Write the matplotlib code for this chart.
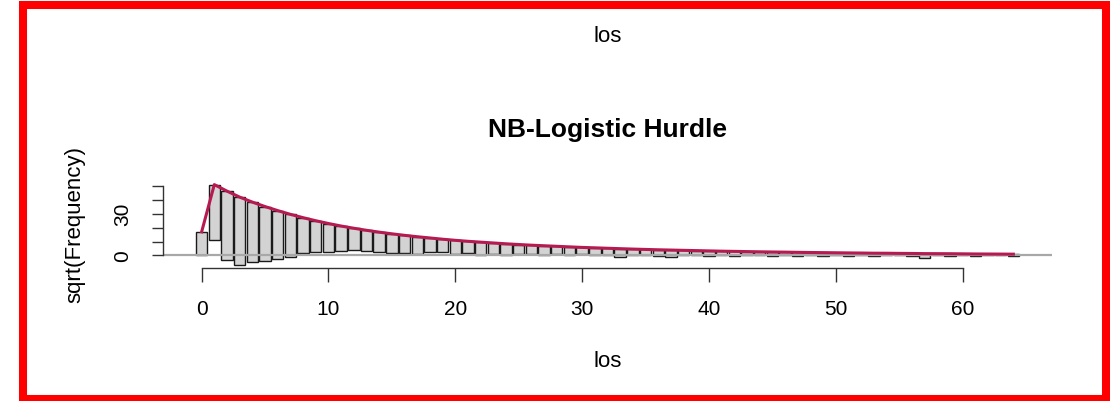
"""Hanging rootogram for the NB-logistic hurdle fit of length of stay."""

import matplotlib
matplotlib.use("Agg")
import matplotlib.pyplot as plt
import numpy as np
from matplotlib.patches import Rectangle

# length of stay (days)
counts = np.arange(0, 65)

# observed frequencies per count
observed = [
    289, 1600, 2490, 2372, 1884, 1552, 1190, 924, 660, 515,
    424, 313, 250, 213, 210, 190, 166, 159, 100, 85,
    94, 71, 81, 58, 66, 45, 42, 46, 31, 34,
    25, 27, 21, 34, 19, 15, 19, 24, 12, 8,
    12, 7, 12, 5, 7, 8, 4, 6, 3, 6,
    3, 6, 2, 3, 1, 2, 3, 11, 1, 3,
    1, 3, 1, 1, 2,
]

# expected frequencies from the hurdle model
expected = [
    289, 2601, 2144, 1764, 1475, 1239, 1043, 876, 740, 625,
    529, 449, 384, 328, 282, 243, 210, 182, 159, 137,
    119, 104, 92, 81, 70.6, 62.4, 54.8, 49.0, 43.6, 38.4,
    33.6, 30.3, 27.0, 24.0, 21.2, 18.9, 16.8, 15.2, 13.7, 12.3,
    10.9, 9.6, 8.7, 7.8, 7.0, 6.3, 5.8, 5.1, 4.6, 4.2,
    3.8, 3.4, 3.1, 2.7, 2.6, 2.3, 2.1, 1.8, 1.7, 1.6,
    1.4, 1.2, 1.1, 1.0, 0.9,
]

sqrt_obs = np.sqrt(observed)
sqrt_exp = np.sqrt(expected)
bar_bottom = sqrt_exp - sqrt_obs

plt.rcParams["font.family"] = ["Liberation Sans", "DejaVu Sans"]

W, H = 1110, 402
fig = plt.figure(figsize=(W / 100, H / 100), dpi=100)

left, right, bottom, top = 163, 1052, 269, 182.4
ax = fig.add_axes([left / W, 1 - bottom / H, (right - left) / W, (bottom - top) / H])

width = 0.9
ax.bar(counts, sqrt_obs, bottom=bar_bottom, width=width,
       color="#d3d3d3", edgecolor="#1a1a1a", linewidth=1.0, zorder=2)
ax.axhline(0, color="#a8a8a8", lw=1.6, zorder=2.5)
ax.plot(counts, sqrt_exp, color="#B61A51", lw=2.2, zorder=3)

# R-style 4% padding around the data range
x_lo, x_hi = counts[0] - width / 2, counts[-1] + width / 2
y_lo, y_hi = bar_bottom.min(), sqrt_exp.max()
ax.set_xlim(x_lo - 0.04 * (x_hi - x_lo), x_hi + 0.04 * (x_hi - x_lo))
ax.set_ylim(y_lo - 0.04 * (y_hi - y_lo), y_hi + 0.04 * (y_hi - y_lo))

for side in ("top", "right"):
    ax.spines[side].set_visible(False)
ax.spines["left"].set_bounds(0, 50)
ax.spines["bottom"].set_bounds(0, 60)
for side in ("left", "bottom"):
    ax.spines[side].set_color("#333333")
    ax.spines[side].set_linewidth(1.0)

ax.set_xticks(np.arange(0, 61, 10))
ax.set_yticks(np.arange(0, 51, 10))
ax.set_yticklabels(["0", "", "", "30", "", ""], rotation=90, va="center")
ax.tick_params(axis="x", length=10, width=1.0, color="#333333", pad=12, labelsize=15)
ax.tick_params(axis="y", length=8, width=1.0, color="#333333", pad=14, labelsize=15)

cx = (left + right) / 2 / W
fig.text(cx, 1 - 37 / H, "los", ha="center", va="center", fontsize=16)
fig.text(cx, 1 - 130 / H, "NB-Logistic Hurdle", ha="center", va="center",
         fontsize=19, fontweight="bold")
fig.text(cx, 1 - 362 / H, "los", ha="center", va="center", fontsize=16)
fig.text(75 / W, 1 - 225 / H, "sqrt(Frequency)", ha="center", va="center",
         rotation=90, fontsize=16)

# red frame around the panel
fig.patches.append(Rectangle((23 / W, 1 - 400 / H), (1106 - 23) / W, (400 - 6) / H,
                             transform=fig.transFigure, fill=False,
                             edgecolor="#ff0000", linewidth=5.8))

fig.savefig("out.png", dpi=100)
